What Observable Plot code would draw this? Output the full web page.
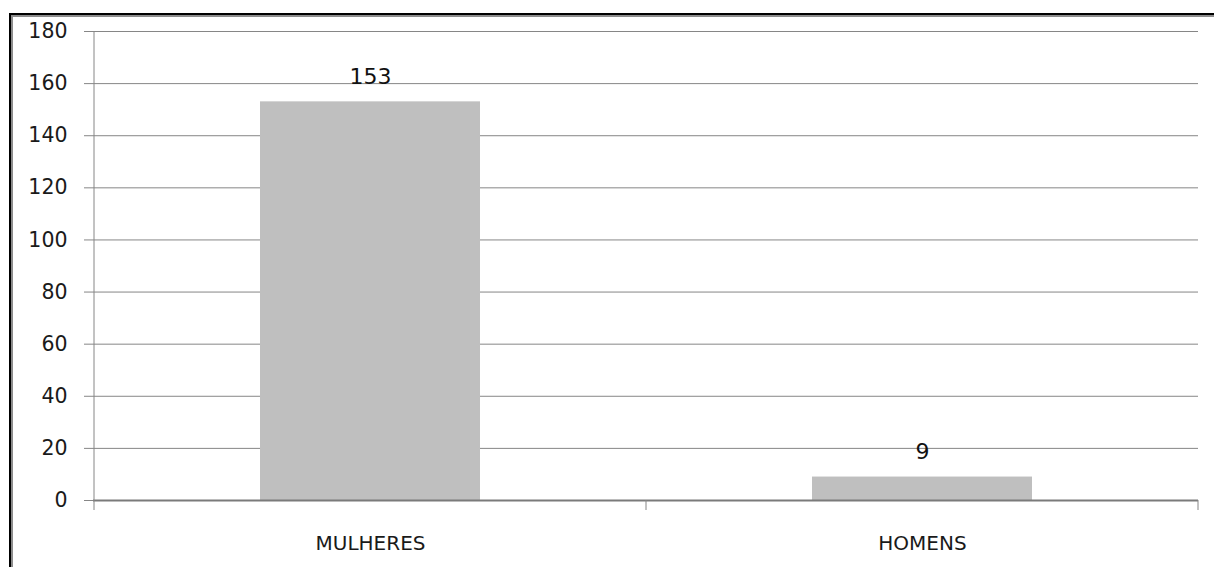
<!DOCTYPE html>
<html><head><meta charset="utf-8">
<script src="https://cdn.jsdelivr.net/npm/d3@7"></script>
<script src="https://cdn.jsdelivr.net/npm/@observablehq/plot@0.6"></script>
<style>
body{margin:0;background:#fff;}
#wrap{position:relative;width:1214px;height:567px;overflow:hidden;}
#frame{position:absolute;left:9px;top:13px;width:1300px;height:700px;border-left:2px solid #000;border-top:2px solid #000;box-shadow: inset 2px 2px 0 #8c8c8c;}
#chart{position:absolute;left:0;top:0;}
</style></head><body>
<div id="wrap"><div id="frame"></div><div id="chart"></div></div>
<script>
const categories = ["MULHERES", "HOMENS"];
const values = [153, 9];
const yTicks = [0, 20, 40, 60, 80, 100, 120, 140, 160, 180];

const data = categories.map((c, i) => ({category: c, value: values[i]}));
const gridColor = "#868686";

const chart = Plot.plot({
  width: 1214, height: 567,
  marginLeft: 93, marginRight: 16, marginTop: 31, marginBottom: 67,
  style: {fontFamily: "DejaVu Sans", fontSize: "20px", color: "#1a1a1a", background: "transparent", overflow: "visible"},
  x: {domain: categories, paddingInner: 0.602, paddingOuter: 0.301, label: null},
  y: {domain: [0, 180], ticks: yTicks, label: null},
  marks: [
    Plot.gridY(yTicks.filter(d => d > 0), {stroke: gridColor, strokeOpacity: 1}),
    Plot.axisY(yTicks, {tickSize: 9, tickPadding: 17, stroke: gridColor, strokeOpacity: 1, fill: "#1a1a1a", fontSize: 20.5}),
    Plot.barY(data, {x: "category", y: "value", fill: "#bfbfbf", style: "filter: drop-shadow(1px 1px 2px rgba(0,0,0,0.25))"}),
    Plot.ruleY([0], {stroke: "#7a7a7a", strokeWidth: 2}),
    Plot.axisX(categories, {tickSize: 0, tickPadding: 35, fontSize: 20, fill: "#1a1a1a", style: "letter-spacing: 0.6px"}),
    Plot.text(data, {x: "category", y: "value", text: d => String(d.value), dy: -18, lineAnchor: "bottom", fontSize: 22, fill: "#111"})
  ]
});

// axis line and category boundary ticks from the library's scales
const xs = chart.scale("x");
const ys = chart.scale("y");
const y0 = ys.apply(0), yTop = ys.apply(180);
const gap = (xs.step - xs.bandwidth) / 2;
const bounds = [xs.apply(categories[0]) - gap, ...categories.map(c => xs.apply(c) + xs.bandwidth + gap)];
const g = d3.select(chart).append("g").attr("stroke", gridColor).attr("stroke-width", 1);
bounds.forEach((b, i) => {
  g.append("line")
    .attr("x1", b).attr("x2", b)
    .attr("y1", i === 0 ? yTop : y0).attr("y2", y0 + 10);
});
document.getElementById("chart").appendChild(chart);
</script>
</body></html>
